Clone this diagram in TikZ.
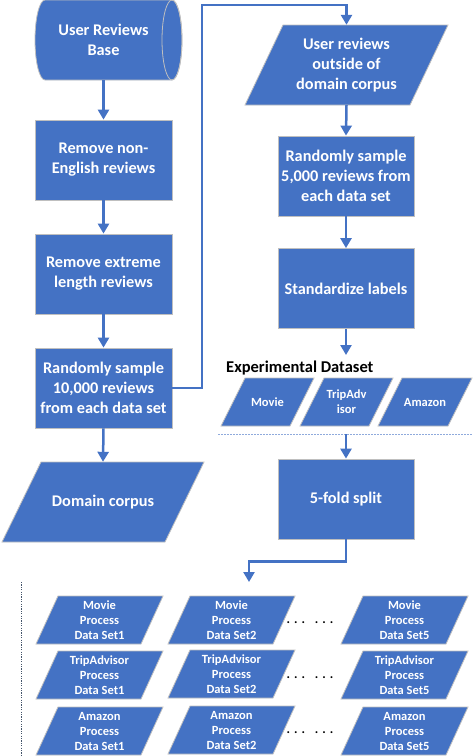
\documentclass[tikz,border=0pt]{standalone}
\usepackage{fontspec}
\setmainfont{Carlito}
\usetikzlibrary{arrows.meta}
\definecolor{obl}{HTML}{4472C4}
\definecolor{edgec}{HTML}{BFBFBF}
\definecolor{sepc}{HTML}{8FAADC}
\definecolor{vdot}{HTML}{44546A}
\tikzset{
  big/.style={font=\bfseries\fontsize{16.3}{20}\selectfont},
  small/.style={font=\bfseries\fontsize{12.5}{15}\selectfont},
  boxst/.style={rectangle, fill=obl, draw=edgec, line width=0.8pt, text=white, big, align=center, minimum width=137pt, minimum height=80pt, inner sep=0pt},
  ptext/.style={text=white, align=center, inner sep=0pt},
  pshape/.style={fill=obl, draw=edgec, line width=0.8pt},
  conn/.style={draw=obl, line width=2.5pt, -{Triangle[width=11pt,length=10pt]}},
  dotsst/.style={anchor=base, inner sep=0pt, font=\bfseries\fontsize{13}{15}\selectfont},
}
% name, cx, cy, w, h, slant, style, text
\newcommand\mypara[8]{%
  \path[pshape] ({#2-#4/2},{#3+#5/2}) -- ({#2-#4/2+#6},{#3-#5/2}) -- ({#2+#4/2},{#3-#5/2}) -- ({#2+#4/2-#6},{#3+#5/2}) -- cycle;
  \node[ptext,#7,minimum width=#4pt, minimum height=#5pt] (#1) at (#2,#3) {#8};
}
\begin{document}
\begin{tikzpicture}[x=1pt,y=-1pt]
\useasboundingbox (0,0) rectangle (472,756);
% cylinder
\path[pshape] (172,0) -- (45,0) arc[start angle=-90, end angle=-270, x radius=10, y radius=40] -- (172,80) arc[start angle=90, end angle=-90, x radius=10, y radius=40] -- cycle;
\path[draw=edgec, line width=0.8pt] (172,40) ellipse[x radius=10, y radius=40];
\node[ptext, big, minimum width=137pt, minimum height=80pt] (cyl) at (103.5,40) {User Reviews\\Base};
% left column
\node[boxst] (b1) at (103.5,160) {Remove non-\\English reviews};
\node[boxst] (b2) at (103.5,274) {Remove extreme\\length reviews};
\node[boxst] (b3) at (103.5,388) {Randomly sample\\10,000 reviews\\from each data set};
\mypara{dom}{103}{502}{202}{80}{39}{big}{Domain corpus}
% right column
\mypara{up}{346.5}{65}{203}{80}{38}{big}{User reviews\\outside of\\domain corpus}
\node[boxst, minimum width=136pt] (r1) at (346,176) {Randomly sample\\5,000 reviews from\\each data set};
\node[boxst, minimum width=136pt] (r2) at (346,288.5) {Standardize labels};
\node[anchor=west, inner sep=0pt, font=\bfseries\fontsize{16.5}{18}\selectfont] (explab) at (226,368) {Experimental Dataset};
\mypara{emov}{267.5}{402}{93}{48}{24}{small}{Movie}
\mypara{etrip}{346.5}{402}{93}{48}{24}{small}{TripAdv\\isor}
\mypara{eama}{425}{402}{94}{48}{24}{small}{Amazon}
\coordinate (sepL) at (218,434);
\coordinate (sepR) at (472,434);
\draw[sepc, line width=0.7pt, dash pattern=on 1.5pt off 1.5pt] (sepL) -- (sepR);
\node[boxst, minimum width=136pt] (split) at (346,499) {5-fold split};
% grid
\coordinate (vtop) at (21,582);
\coordinate (vbot) at (21,756);
\draw[vdot, line width=0.7pt, dash pattern=on 1.2pt off 1.2pt] (vtop) -- (vbot);
\mypara{g11}{99.5}{620}{127}{48}{22}{small}{Movie\\Process\\Data Set1}
\mypara{g12}{231.5}{620}{127}{48}{22}{small}{Movie\\Process\\Data Set2}
\mypara{g13}{404.5}{620}{127}{48}{22}{small}{Movie\\Process\\Data Set5}
\mypara{g21}{99.5}{675}{127}{48}{22}{small}{TripAdvisor\\Process\\Data Set1}
\mypara{g22}{231.5}{674}{127}{48}{22}{small}{TripAdvisor\\Process\\Data Set2}
\mypara{g23}{404.5}{675}{127}{48}{22}{small}{TripAdvisor\\Process\\Data Set5}
\mypara{g31}{99.5}{731}{127}{48}{22}{small}{Amazon\\Process\\Data Set1}
\mypara{g32}{231.5}{730}{127}{48}{22}{small}{Amazon\\Process\\Data Set2}
\mypara{g33}{404.5}{731}{127}{48}{22}{small}{Amazon\\Process\\Data Set5}
\node[dotsst] (d1) at (310,623) {. . .\hspace{10pt}. . .};
\node[dotsst] (d2) at (310,678) {. . .\hspace{10pt}. . .};
\node[dotsst] (d3) at (310,733) {. . .\hspace{10pt}. . .};
% connectors
\draw[conn] (cyl.south) -- (b1.north);
\draw[conn] (b1.south) -- (b2.north);
\draw[conn] (b2.south) -- (b3.north);
\draw[conn] (b3.south) -- (dom.north);
\coordinate (bendA) at (202,5);
\draw[conn] (b3.east) -| (bendA) -| (up.north);
\draw[conn] (up.south) -- (r1.north);
\draw[conn] (r1.south) -- (r2.north);
\coordinate (r2end) at (346,355);
\draw[conn] (r2.south) -- (r2end);
\coordinate (sepmid) at (346,434);
\draw[conn] (sepmid) -- (split.north);
\coordinate (gridtop) at (249,582);
\draw[conn] (split.south) -- ++(0,22) -| (gridtop);
\end{tikzpicture}
\end{document}
